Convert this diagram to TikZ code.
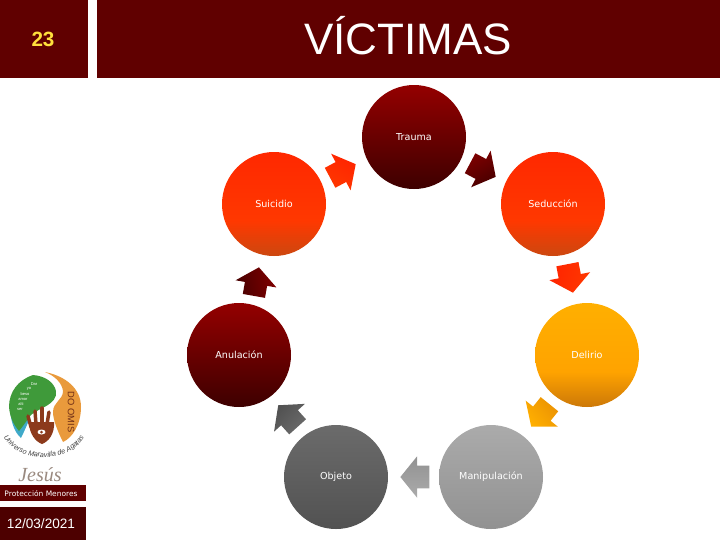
\documentclass[tikz,border=0pt]{standalone}
\usepackage{fontspec}
\setmainfont{Liberation Sans}
\newfontfamily\labelfont{DejaVu Sans}
\newfontfamily\signfont{Liberation Serif}
\usetikzlibrary{
    shapes.arrows,
    decorations.text
}
\definecolor{darkmaroon}{HTML}{600000}
\definecolor{datemaroon}{HTML}{4D0000}
\definecolor{numyellow}{HTML}{FFE03C}
\definecolor{redtop}{HTML}{FF2800}
\definecolor{redmid}{HTML}{FF3800}
\definecolor{redlow}{HTML}{CC4810}
\definecolor{ambertop}{HTML}{FFAF00}
\definecolor{ambermid}{HTML}{FFA300}
\definecolor{amberlow}{HTML}{CC7808}
\definecolor{logogreen}{HTML}{3F9A3A}
\definecolor{logoblue}{HTML}{3FA9C9}
\definecolor{logoorange}{HTML}{E99A3C}
\definecolor{logobrown}{HTML}{8C3A1C}
\definecolor{signgray}{HTML}{9A8A80}
\pgfdeclareverticalshading{redfade}{100bp}{
    color(0bp)=(redlow); color(25bp)=(redlow); color(42bp)=(redmid);
    color(75bp)=(redtop); color(100bp)=(redtop)}
\pgfdeclareverticalshading{amberfade}{100bp}{
    color(0bp)=(amberlow); color(25bp)=(amberlow); color(42bp)=(ambermid);
    color(75bp)=(ambertop); color(100bp)=(ambertop)}
\tikzstyle{header} = [
    rectangle,
    draw=none,
    fill=darkmaroon,
    inner sep=0pt,
    anchor=north west
]
\tikzstyle{stage} = [
    circle,
    draw=none,
    minimum size=78pt,
    inner sep=0pt,
    text=white,
    font=\labelfont\fontsize{7.2}{9}\selectfont
]
\tikzstyle{turn} = [
    single arrow,
    draw=none,
    anchor=tip,
    inner xsep=0pt,
    inner ysep=8.25pt,
    minimum height=21.75pt,
    minimum width=27.75pt,
    single arrow tip angle=102,
    shading=axis
]
\tikzstyle{darkshade} = [top color=red!58!black, bottom color=red!24!black]
\tikzstyle{darkturn} = [top color=red!50!black, bottom color=red!28!black]
\tikzstyle{redturn} = [top color=redtop!90!red, bottom color=redmid]
\tikzstyle{amberturn} = [top color=ambertop, bottom color=amberlow!40!ambermid]
\tikzstyle{slateshade} = [top color=black!58, bottom color=black!68]
\tikzstyle{silvershade} = [top color=black!33, bottom color=black!43]
\tikzstyle{logotext} = [text=white, font=\fontsize{3}{3}\selectfont, inner sep=0pt]
\tikzstyle{finger} = [draw=logobrown, line width=2.6pt, line cap=round]
\begin{document}
\begin{tikzpicture}[x=0.75pt, y=-0.75pt]
        \useasboundingbox (0,0) rectangle (720,540);

        % Header
        \node[header, minimum width=66pt, minimum height=58.5pt] (numbox) at (0,0) {};
        \node[header, minimum width=467.25pt, minimum height=58.5pt] (titlebox) at (97,0) {};
        \node[text=numyellow, font=\bfseries\fontsize{15.5}{18}\selectfont] (num) at (43,39) {23};
        \node[text=white, font=\fontsize{33}{36}\selectfont] (title) at (408,36) {VÍCTIMAS};

        % Stages
        \node[stage, darkshade] (trauma) at (414,137) {Trauma};
        \node[stage, shading=redfade] (seduccion) at (553,204) {Seducción};
        \node[stage, shading=amberfade] (delirio) at (587,355) {Delirio};
        \node[stage, silvershade] (manipulacion) at (491,477) {Manipulación};
        \node[stage, slateshade] (objeto) at (336,477) {Objeto};
        \node[stage, darkshade] (anulacion) at (239,355) {Anulación};
        \node[stage, shading=redfade] (suicidio) at (274,204) {Suicidio};

        % Arrows between stages
        \node[turn, darkturn, rotate=-28, shading angle=28] (a1) at (496,177) {};
        \node[turn, redturn, rotate=-79, shading angle=79] (a2) at (573,293) {};
        \node[turn, amberturn, rotate=-129, shading angle=129] (a3) at (531,427) {};
        \node[turn, silvershade, rotate=180, shading angle=180] (a4) at (400,477) {};
        \node[turn, slateshade, rotate=132, shading angle=-132] (a5) at (278,405) {};
        \node[turn, darkturn, rotate=80, shading angle=-80] (a6) at (259,267) {};
        \node[turn, redturn, rotate=28, shading angle=-28] (a7) at (356,164) {};

        % Logo
        \fill[logoblue] (10,405) .. controls (10,420) and (14,432) .. (21,438)
            .. controls (24,432) and (27,425) .. (30,418) -- (20,400) -- cycle;
        \fill[logogreen] (33,375) .. controls (18,380) and (9,392) .. (9,407)
            .. controls (10,418) and (14,425) .. (19,431)
            .. controls (24,425) and (27,420) .. (31,415)
            .. controls (38,408) and (58,405) .. (56,391)
            .. controls (54,382) and (45,376) .. (33,375) -- cycle;
        \fill[logoorange] (45,372) .. controls (65,376) and (81,388) .. (81,407)
            .. controls (81,425) and (72,438) .. (63,442)
            .. controls (58,432) and (53,420) .. (53,412)
            .. controls (53,402) and (63,400) .. (63,391)
            .. controls (62,383) and (55,376) .. (45,372) -- cycle;
        \fill[logobrown] (29,422) .. controls (29,434) and (36,442) .. (42,444)
            .. controls (48,442) and (55,434) .. (54,422) -- cycle;
        \draw[finger] (31,427) -- (28,416);
        \draw[finger] (36,424) -- (35,411);
        \draw[finger] (42,424) -- (42,408);
        \draw[finger] (47,424) -- (49,412);
        \fill[white] (41.5,432) ellipse (4 and 2.5);
        \fill[logobrown] (41.5,432) circle (1.5);
        \node[logotext] (g1) at (34,384) {Dar};
        \node[logotext] (g2) at (29,389) {yo};
        \node[logotext] (g3) at (25,394) {beso};
        \node[logotext] (g4) at (23,399) {amor};
        \node[logotext] (g5) at (21,404) {alti};
        \node[logotext] (g6) at (20,409) {ser};
        \node[text=logobrown!80!black, rotate=-90, inner sep=0pt, font=\fontsize{7}{7}\selectfont] (sino) at (71,412) {DO OMIS};
        \path[decorate, decoration={text along path, text align=center,
            text={|\fontsize{5.4}{6}\selectfont\itshape\color{black!75}|Universo Maravilla de Agatas}}]
            (2,434) .. controls (14,464) and (72,466) .. (86,434);

        % Signature
        \node[text=signgray, font=\signfont\itshape\fontsize{15}{15}\selectfont, inner sep=0pt] (sign) at (40,475) {Jesús};

        % Footer
        \node[header, minimum width=64.5pt, minimum height=12pt] (areabox) at (0,485) {};
        \node[text=white, font=\labelfont\fontsize{5.6}{7}\selectfont] (area) at (41,493.5) {Protección Menores};
        \node[header, fill=datemaroon, minimum width=64.5pt, minimum height=24.75pt] (datebox) at (0,507) {};
        \node[text=white, font=\fontsize{10.2}{12}\selectfont] (date) at (41,524) {12/03/2021};
    \end{tikzpicture}
\end{document}
